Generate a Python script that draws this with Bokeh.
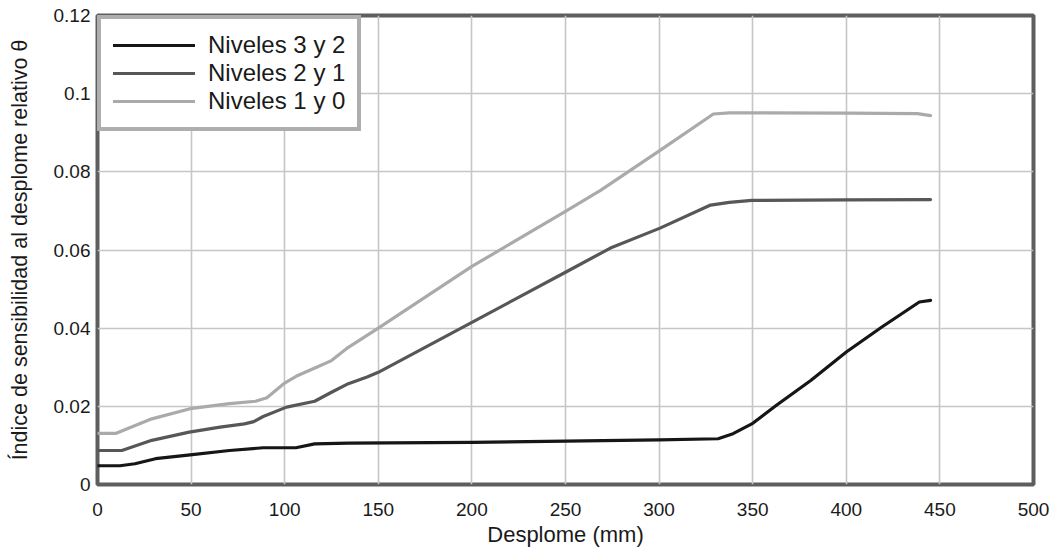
from bokeh.plotting import figure
from bokeh.models import FixedTicker, CustomJSTickFormatter, Range1d, Legend, LegendItem
from bokeh.embed import file_html
from bokeh.resources import INLINE

# Niveles 3 y 2
x_32 = [0, 12, 20, 31, 49.5, 70.5, 88.5, 106, 116, 134, 200, 250, 300, 331.5, 339.5, 349.5, 362.5, 381, 400,
        419, 439, 445]
y_32 = [0.0048, 0.0048, 0.0053, 0.0066, 0.0076, 0.0087, 0.0094, 0.0094, 0.0104, 0.0106, 0.0108, 0.0111, 0.0114,
        0.0117, 0.0130, 0.0155, 0.0202, 0.0266, 0.0339, 0.0403, 0.0467, 0.0471]

# Niveles 2 y 1
x_21 = [0, 13, 29, 49, 65.5, 78.5, 83.5, 88.5, 101, 116, 125, 134, 144, 150, 200, 250, 274, 300.5, 327.5, 337.5,
        349.5, 400, 445]
y_21 = [0.0087, 0.0087, 0.0113, 0.0134, 0.0147, 0.0155, 0.0161, 0.0174, 0.0198, 0.0213, 0.0236, 0.0258, 0.0275,
        0.0287, 0.0415, 0.0543, 0.0605, 0.0656, 0.0715, 0.0722, 0.0727, 0.0728, 0.0729]

# Niveles 1 y 0
x_10 = [0, 10, 29, 49.5, 70.5, 84.5, 90.5, 99.5, 107, 117, 125, 134, 150, 200, 250, 268.5, 300.5, 329, 337.5,
        400, 438, 445]
y_10 = [0.0131, 0.0131, 0.0168, 0.0194, 0.0207, 0.0213, 0.0222, 0.0258, 0.0279, 0.0300, 0.0317, 0.0351, 0.0400,
        0.0558, 0.0699, 0.0752, 0.0855, 0.0948, 0.0951, 0.0950, 0.0949, 0.0944]

x_ticks = [0, 50, 100, 150, 200, 250, 300, 350, 400, 450, 500]
y_ticks = [0, 0.02, 0.04, 0.06, 0.08, 0.1, 0.12]

series_names = ["Niveles 3 y 2", "Niveles 2 y 1", "Niveles 1 y 0"]

FONT = "Liberation Sans"

p = figure(frame_width=936, frame_height=469,
           x_range=Range1d(0, 500), y_range=Range1d(0, 0.12),
           output_backend="svg", toolbar_location=None,
           min_border_left=97, min_border_right=18, min_border_top=15, min_border_bottom=55,
           background_fill_color="white", border_fill_color="white")

p.outline_line_color = "#5e5e5e"
p.outline_line_width = 4

for ax in (p.xaxis[0], p.yaxis[0]):
    ax.axis_line_color = None
    ax.major_tick_line_color = None
    ax.minor_tick_line_color = None
    ax.major_tick_out = 0
    ax.major_tick_in = 0
    ax.minor_tick_out = 0
    ax.major_label_text_font = FONT
    ax.major_label_text_font_size = "19px"
    ax.major_label_text_color = "#1a1a1a"
    ax.axis_label_text_font = FONT
    ax.axis_label_text_font_style = "normal"
    ax.axis_label_text_color = "#1a1a1a"

p.xaxis.axis_label_text_font_size = "22px"
p.yaxis.axis_label_text_font_size = "21.5px"

p.xaxis.ticker = FixedTicker(ticks=x_ticks)
p.yaxis.ticker = FixedTicker(ticks=y_ticks)
p.xaxis.formatter = CustomJSTickFormatter(code="return Number(tick.toFixed(2)).toString();")
p.yaxis.formatter = CustomJSTickFormatter(code="return Number(tick.toFixed(2)).toString();")

p.xaxis.axis_label = "Desplome (mm)"
p.yaxis.axis_label = "Índice de sensibilidad al desplome relativo θ"
p.xaxis.major_label_standoff = 18
p.yaxis.major_label_standoff = 7
p.xaxis.axis_label_standoff = 3
p.yaxis.axis_label_standoff = 19

p.grid.grid_line_color = "#c6c6c6"
p.grid.grid_line_width = 1.6
p.xgrid.ticker = FixedTicker(ticks=x_ticks)
p.ygrid.ticker = FixedTicker(ticks=y_ticks)

r1 = p.line(x_32, y_32, line_color="#161616", line_width=3.2, line_join="round", line_cap="round")
r2 = p.line(x_21, y_21, line_color="#575757", line_width=3.2, line_join="round", line_cap="round")
r3 = p.line(x_10, y_10, line_color="#aaaaaa", line_width=3.2, line_join="round", line_cap="round")

legend = Legend(items=[LegendItem(label=series_names[0], renderers=[r1]),
                       LegendItem(label=series_names[1], renderers=[r2]),
                       LegendItem(label=series_names[2], renderers=[r3])],
                location="top_left")
legend.margin = 0
legend.padding = 12
legend.spacing = 0
legend.border_line_color = "#5e5e5e"
legend.border_line_width = 4
legend.background_fill_color = "white"
legend.background_fill_alpha = 1.0
legend.label_text_font = FONT
legend.label_text_font_size = "24px"
legend.label_text_color = "#1a1a1a"
legend.glyph_width = 82
legend.glyph_height = 28
legend.label_height = 28
legend.label_standoff = 13
p.add_layout(legend)

open("out.html", "w").write(file_html(p, INLINE))
